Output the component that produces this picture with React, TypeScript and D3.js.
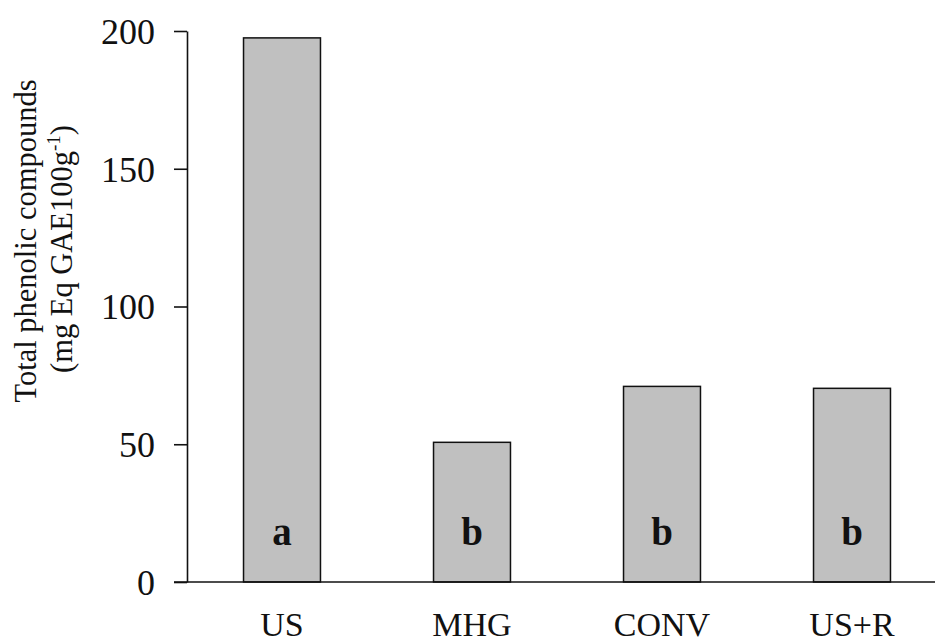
// Bar chart of total phenolic compounds by extraction method

import React, { useEffect, useRef } from 'react';
import * as d3 from 'd3';

const methods = ['US', 'MHG', 'CONV', 'US+R'];
const phenolics = [197.5, 50.7, 71.0, 70.3];
const groupLetters = ['a', 'b', 'b', 'b'];
const yTicks = [0, 50, 100, 150, 200];

const width = 935, height = 642;
const serif = '"Liberation Serif", "Times New Roman", serif';

const App = () => {
  const yAxisRef = useRef<SVGGElement>(null);

  // band scale for the methods, bars are narrow inside a wide step
  const xScale = d3.scaleBand()
    .domain(methods)
    .range([187, 947])
    .paddingInner(0.595)
    .paddingOuter(0.2975);

  // linear scale for the phenolic content
  const yScale = d3.scaleLinear()
    .domain([0, 200])
    .range([582, 31]);

  useEffect(() => {
    const g = d3.select(yAxisRef.current);
    g.call(d3.axisLeft(yScale).tickValues(yTicks).tickSize(13).tickSizeOuter(0).tickPadding(19) as any);
    g.select('.domain').attr('stroke', '#111').attr('stroke-width', 1.6);
    g.selectAll('.tick line').attr('stroke', '#111').attr('stroke-width', 1.6);
    g.selectAll('.tick text')
      .attr('font-family', serif)
      .attr('font-size', 36)
      .attr('fill', '#111')
      .attr('dy', '0.34em');
  }, []);

  return (
    <svg width={width} height={height} style={{ position: 'absolute', left: 0, top: 0, background: '#fff' }}>
      {/* bars */}
      {methods.map((m, i) => (
        <rect key={m} x={xScale(m)} y={yScale(phenolics[i])} width={xScale.bandwidth()}
          height={yScale(0) - yScale(phenolics[i])} fill="#c0c0c0" stroke="#111" strokeWidth={1.5} />
      ))}
      {/* significance letters inside the bars */}
      {methods.map((m, i) => (
        <text key={`${m}-letter`} x={(xScale(m) ?? 0) + xScale.bandwidth() / 2} y={545}
          textAnchor="middle" fontFamily={serif} fontWeight="bold" fontSize={39} fill="#111">{groupLetters[i]}</text>
      ))}
      {/* y axis */}
      <g ref={yAxisRef} transform="translate(187, 0)" />
      {/* x axis baseline, no ticks */}
      <line x1={174} x2={width} y1={yScale(0)} y2={yScale(0)} stroke="#111" strokeWidth={1.6} />
      {methods.map(m => (
        <text key={`${m}-label`} x={(xScale(m) ?? 0) + xScale.bandwidth() / 2} y={636}
          textAnchor="middle" fontFamily={serif} fontSize={34} fill="#111">{m}</text>
      ))}
      {/* y axis title, two lines */}
      <text transform="translate(36, 241) rotate(-90)" textAnchor="middle" fontFamily={serif} fontSize={30.5} fill="#111">
        Total phenolic compounds
      </text>
      <text transform="translate(72, 249) rotate(-90)" textAnchor="middle" fontFamily={serif} fontSize={30.5} fill="#111">
        (mg Eq GAE100g<tspan dy={-12} fontSize={19}>-1</tspan><tspan dy={12}>)</tspan>
      </text>
    </svg>
  );
};

export default App;
